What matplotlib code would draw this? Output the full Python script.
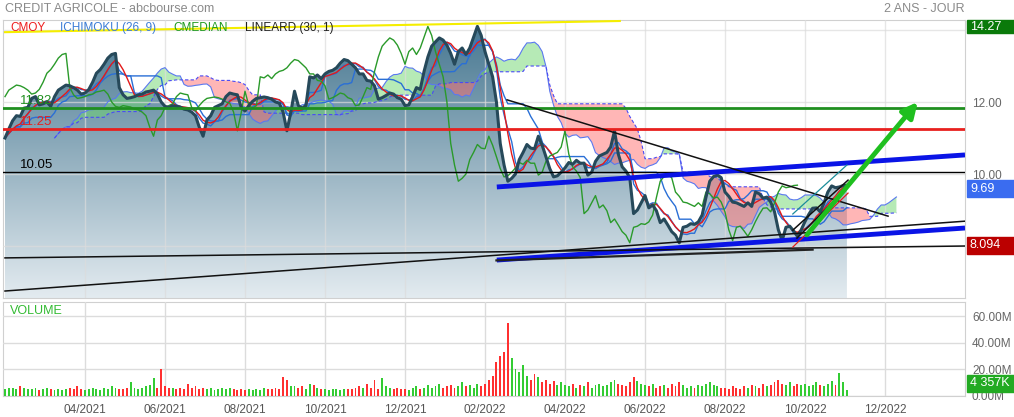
import numpy as np
import pandas as pd
import matplotlib
matplotlib.use('Agg')
import matplotlib.pyplot as plt
from matplotlib.colors import LinearSegmentedColormap
from matplotlib.patches import Rectangle

plt.rcParams['font.family'] = ['Liberation Sans', 'DejaVu Sans']

# Closing prices, one reading every 2 sessions (Feb 2021 -> Nov 2022)
close = [
    11.0, 11.25, 11.48, 11.62, 11.6, 11.83, 11.85, 12.1, 12.15, 11.92,
    11.95, 12.0, 11.88, 12.15, 12.33, 12.4, 12.47, 12.45, 12.4, 12.33,
    12.22, 12.25, 12.35, 12.55, 12.8, 12.9, 13.05, 13.22, 13.32, 13.35,
    12.4, 12.2, 12.1, 12.12, 12.15, 12.2, 12.22, 12.28, 12.3, 12.33,
    12.22, 12.0, 11.88, 11.85, 11.9, 11.88, 11.86, 11.8, 11.78, 11.72,
    11.62, 11.3, 11.05, 11.5, 11.62, 11.85, 11.9, 11.95, 12.15, 12.25,
    12.22, 12.2, 11.85, 11.75, 11.9, 12.02, 12.1, 12.12, 12.14, 12.12,
    12.08, 12.0, 11.97, 11.72, 11.2, 11.7, 12.3, 11.9, 11.83, 11.9,
    12.7, 12.67, 12.75, 12.65, 12.78, 12.85, 12.88, 12.95, 13.08, 13.18,
    13.15, 13.05, 12.95, 12.78, 12.78, 12.6, 12.58, 12.45, 12.08, 12.12,
    12.18, 12.25, 12.22, 12.12, 12.08, 11.9, 11.92, 12.15, 12.4, 12.35,
    12.85, 13.25, 13.55, 13.67, 13.78, 13.72, 13.58, 13.35, 13.05, 13.4,
    13.5, 13.32, 13.5, 13.8, 14.1, 13.85, 13.4, 13.05, 12.7, 12.0,
    10.85, 10.25, 9.8, 9.88, 10.0, 10.4, 10.6, 10.82, 10.72, 10.7,
    11.05, 10.8, 10.48, 10.15, 9.92, 9.95, 10.05, 10.17, 10.32, 10.27,
    10.38, 10.3, 10.3, 9.97, 10.05, 10.35, 10.5, 10.55, 10.6, 10.75,
    11.2, 10.55, 10.2, 10.08, 9.9, 8.9, 9.0, 9.2, 9.4, 9.06,
    9.14, 8.98, 8.65, 8.75, 8.58, 8.4, 8.3, 8.09, 8.52, 8.55,
    8.62, 8.6, 8.67, 8.86, 9.35, 9.8, 9.93, 9.97, 9.9, 9.5,
    9.38, 9.22, 9.2, 9.15, 9.1, 9.2, 9.1, 9.5, 9.45, 9.33,
    9.36, 9.22, 8.95, 8.45, 8.15, 8.52, 8.55, 8.42, 8.27, 8.45,
    8.68, 8.88, 9.05, 9.06, 8.95, 9.2, 9.5, 9.67, 9.62, 9.64,
    9.68, 9.69,
]

# Volume in millions, same sessions
volume = [
    5, 6, 6, 5, 7, 6, 5, 5, 6, 4, 5, 6, 5, 4, 5, 4, 5, 6, 5, 7, 5,
    4, 5, 6, 5, 4, 6, 5, 7, 6, 5, 5, 6, 10, 6, 5, 6, 7, 8, 13, 6, 20,
    7, 6, 6, 5, 6, 5, 9, 6, 7, 5, 6, 5, 6, 4, 5, 6, 5, 6, 5, 4, 5,
    4, 5, 4, 5, 4, 6, 5, 5, 6, 5, 14, 12, 7, 7, 6, 7, 5, 9, 8, 6, 5,
    5, 4, 5, 5, 4, 5, 5, 5, 6, 7, 6, 9, 6, 12, 5, 13, 7, 6, 5, 6, 5,
    5, 4, 6, 7, 5, 6, 8, 6, 7, 9, 6, 7, 8, 6, 7, 10, 7, 8, 6, 9, 7,
    9, 12, 15, 25, 30, 33, 55, 28, 20, 18, 23, 15, 12, 16, 14, 10, 12, 9, 11, 8, 10,
    8, 7, 9, 6, 8, 7, 10, 6, 8, 9, 7, 8, 10, 12, 9, 8, 7, 10, 14, 11, 9,
    8, 7, 9, 6, 7, 8, 6, 9, 7, 10, 8, 6, 7, 6, 8, 7, 9, 10, 8, 7, 6,
    6, 5, 7, 6, 5, 7, 6, 8, 7, 6, 9, 7, 8, 10, 12, 9, 8, 10, 7, 9, 8,
    9, 7, 8, 10, 8, 7, 9, 11, 8, 17, 10, 4.357,
]

month_labels = ['04/2021', '06/2021', '08/2021', '10/2021', '12/2021', '02/2022',
                '04/2022', '06/2022', '08/2022', '10/2022', '12/2022']

# horizontal levels drawn by the user
levels = [11.82, 11.25, 10.05]
level_colors = ['#1f8f1f', '#e8201e', '#000000']

# user trendlines: (start session, start price, end session, end price)
blue_lines = [(129.1, 9.64, 252.0, 10.53), (129.1, 7.61, 252.0, 8.50)]
black_lines = [(0, 6.75, 252.0, 8.69), (0, 7.67, 252.0, 8.00),
               (131.8, 12.06, 231.8, 8.83), (206.8, 8.44, 221.3, 9.83),
               (207.9, 8.22, 221.0, 9.61)]
teal_line = (206.8, 8.89, 221.0, 10.25)
red_line = (206.8, 7.97, 221.3, 9.47)
yellow_line = (0, 13.94, 161.4, 14.25)
arrow = (210.5, 8.31, 239.6, 12.0)

# ---- indicators ----
idx = np.arange(len(close))
s = pd.Series(close, dtype=float)
cmoy = s.rolling(5, min_periods=1).mean()
tenkan = (s.rolling(5, min_periods=1).max() + s.rolling(5, min_periods=1).min()) / 2
kijun = (s.rolling(13, min_periods=1).max() + s.rolling(13, min_periods=1).min()) / 2
span_a = ((tenkan + kijun) / 2).to_numpy()
span_b = ((s.rolling(26, min_periods=1).max() + s.rolling(26, min_periods=1).min()) / 2).to_numpy()
shift = 13
cloud_x = idx + shift

W, H = 1014, 417
fig = plt.figure(figsize=(W / 100, H / 100), dpi=100)

def box(x0, y0, x1, y1):
    return [x0 / W, 1 - y1 / H, (x1 - x0) / W, (y1 - y0) / H]

ax = fig.add_axes(box(3, 20, 965, 298))
axv = fig.add_axes(box(3, 302, 965, 395.5))

xmin, xmax = -0.525, 252.0
ylo, yhi = 6.556, 14.278
ax.set_xlim(xmin, xmax)
ax.set_ylim(ylo, yhi)

grid_c = '#dcdcdc'
ticks = [21 * (k + 1) for k in range(len(month_labels))]
for a in (ax, axv):
    a.set_xticks(ticks)
    a.grid(True, color=grid_c, lw=1, zorder=1.5)
    a.set_axisbelow(False)
    for sp in a.spines.values():
        sp.set_color('#d0d0d0')
    a.yaxis.tick_right()
    a.tick_params(length=0)
ax.set_xticklabels([])
# 14.00 and 8.00 sit under the value tags, so only the grid lines show
ax.set_yticks([8, 10, 12, 14])
ax.set_yticklabels(['', '10.00', '12.00', ''])
ax.tick_params(axis='y', pad=5, labelsize=8.5, labelcolor='#666666')

# gradient area under the price
cmap = LinearSegmentedColormap.from_list('area', ['#44758f', '#e3ebf0'])
grad = np.linspace(0, 1, 256).reshape(-1, 1)
im = ax.imshow(grad, extent=[xmin, xmax, ylo, yhi], aspect='auto', cmap=cmap,
               origin='upper', zorder=1)
area = ax.fill_between(idx, close, ylo, facecolor='none', edgecolor='none')
im.set_clip_path(area.get_paths()[0], transform=ax.transData)
for g in ax.get_ygridlines() + ax.get_xgridlines():
    g.set_alpha(0.7)

# ichimoku cloud
ax.fill_between(cloud_x, span_a, span_b, where=span_a >= span_b, interpolate=True,
                color='#6fd66f', alpha=0.5, lw=0, zorder=2)
ax.fill_between(cloud_x, span_a, span_b, where=span_a < span_b, interpolate=True,
                color='#ff6f6f', alpha=0.5, lw=0, zorder=2)
ax.plot(cloud_x, span_a, color='#5a78f0', lw=0.8, zorder=3)
ax.plot(cloud_x, span_b, color='#4a4af5', lw=0.8, ls=(0, (3, 2)), zorder=3)
ax.plot(idx, tenkan, color='#2a6fd6', lw=1, zorder=3)
ax.plot(idx, kijun, color='#2a6fd6', lw=1, zorder=3)

# CMOY and lagging median line
ax.plot(idx, cmoy, color='#e31a1a', lw=1, zorder=3)
ax.plot(idx[shift:] - shift, close[shift:], color='#2a9a2a', lw=1, zorder=3)

# price
ax.plot(idx, close, color='#26495a', lw=2.2, zorder=4)

# levels
for v, c in zip(levels, level_colors):
    ax.axhline(v, color=c, lw=2 if c != '#000000' else 1, zorder=5)
    ax.text(4, v + 0.03, f'{v:.2f}', color=c, fontsize=9.5, zorder=6, va='bottom')

# trendlines
for x0, y0, x1, y1 in blue_lines:
    ax.plot([x0, x1], [y0, y1], color='#0a14e6', lw=3.5, zorder=6, solid_capstyle='butt')
for x0, y0, x1, y1 in black_lines:
    ax.plot([x0, x1], [y0, y1], color='#111111', lw=1.1, zorder=6)
ax.plot([129, 212], [7.60, 7.90], color='#222222', lw=1.6, zorder=6)
ax.plot(teal_line[::2], teal_line[1::2], color='#1a8c9a', lw=0.9, zorder=6)
ax.plot(red_line[::2], red_line[1::2], color='#e31a1a', lw=0.9, zorder=6)
ax.plot(yellow_line[::2], yellow_line[1::2], color='#f5ee00', lw=1.5, zorder=6, clip_on=False)
ax.annotate('', xy=(arrow[2], arrow[3]), xytext=(arrow[0], arrow[1]), zorder=7,
            arrowprops=dict(arrowstyle='-|>,head_length=0.9,head_width=0.45',
                            color='#1fbf1f', lw=3.5, shrinkA=0, shrinkB=0))

# ---- volume ----
chg = np.diff(np.r_[close[0], close])
vcol = np.where(chg >= 0, '#33cc33', '#ff3030')
axv.bar(idx, volume, width=0.5, color=vcol, zorder=3)
axv.set_xlim(xmin, xmax)
axv.set_ylim(0, 70.57)
axv.set_yticks([0, 20, 40, 60])
axv.set_yticklabels([f'{v:.2f}M' for v in [0, 20, 40, 60]])
axv.tick_params(axis='y', pad=5, labelsize=8.5, labelcolor='#666666')
axv.set_xticklabels(month_labels)
axv.tick_params(axis='x', pad=6, labelsize=8.5, labelcolor='#555555')
axv.text(0.007, 0.9, 'VOLUME', transform=axv.transAxes, color='#33bb33', fontsize=9,
         va='center')

# ---- texts around ----
fig.text(5 / W, 1 - 9 / H, 'CREDIT AGRICOLE - abcbourse.com', color='#8a8a8a',
         fontsize=9, va='center')
fig.text(965 / W, 1 - 9 / H, '2 ANS - JOUR', color='#8a8a8a', fontsize=9,
         va='center', ha='right')
legend = [('CMOY', '#ee1c1c', 10), ('ICHIMOKU (26, 9)', '#3a7bd5', 60),
          ('CMEDIAN', '#1e9a1e', 173), ('LINEARD (30, 1)', '#222222', 245)]
for txt, c, xp in legend:
    fig.text(xp / W, 1 - 28 / H, txt, color=c, fontsize=8.5, va='center')

# value tags on the right
tags = [('14.27', '#0a7a0a', 20, 33), ('9.69', '#3a6cf0', 180, 197),
        ('8.094', '#bb0000', 237, 254), ('4 357K', '#22aa22', 375, 392)]
for txt, c, y0, y1 in tags:
    fig.patches.append(Rectangle((967 / W, 1 - y1 / H), (W - 967) / W, (y1 - y0) / H,
                                 transform=fig.transFigure, color=c, zorder=10))
    fig.text(970 / W, 1 - (y0 + y1) / 2 / H, txt, color='white', fontsize=9,
             va='center', zorder=11)

fig.savefig('out.png', dpi=100)
